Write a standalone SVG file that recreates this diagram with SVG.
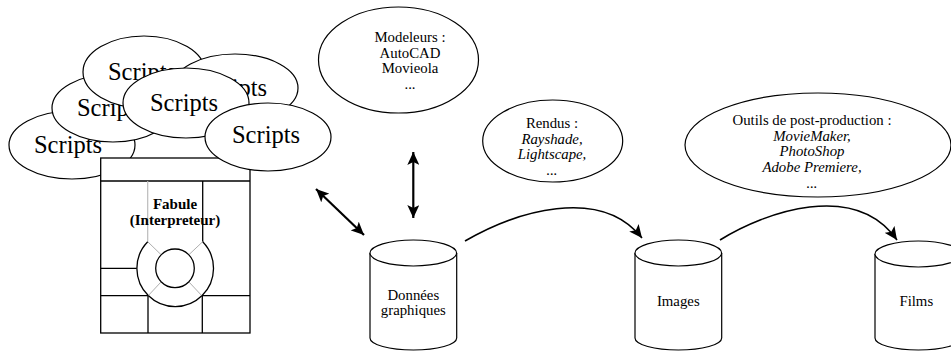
<svg xmlns="http://www.w3.org/2000/svg" width="951" height="352" viewBox="0 0 951 352">
<defs>
<marker id="ah" markerUnits="userSpaceOnUse" markerWidth="14" markerHeight="12" viewBox="0 0 14 12" refX="13" refY="6" orient="auto-start-reverse">
<path d="M0,0 L13,6 L0,12 L3,6 z" fill="#000"/>
</marker>
</defs>
<style>
.sh{fill:#fff;stroke:#000;stroke-width:1.2}
.big{font-family:"Liberation Serif",serif;font-size:24.5px;text-anchor:middle;fill:#000}
.t{font-family:"Liberation Serif",serif;font-size:14.8px;text-anchor:middle;fill:#000}
.it{font-style:italic}
.b{font-weight:bold}
.ln{stroke:#000;stroke-width:1.3;fill:none}
.gr{stroke:#999;stroke-width:0.8;fill:none}
.con{fill:none;stroke:#000;stroke-width:1.6}
.dbl{fill:none;stroke:#000;stroke-width:2.2}
</style>
<rect width="951" height="352" fill="#fff"/>
<g id="scripts1"><ellipse class="sh" cx="72" cy="145" rx="63" ry="34"/><text class="big" x="68" y="153">Scripts</text></g>
<g id="scripts2"><ellipse class="sh" cx="113" cy="108" rx="61" ry="34"/><text class="big" x="111" y="116">Scripts</text></g>
<g id="scripts3"><ellipse class="sh" cx="144" cy="72" rx="61" ry="36"/><text class="big" x="142" y="80">Scripts</text></g>
<g id="scripts4"><ellipse class="sh" cx="235" cy="88" rx="63" ry="34"/><text class="big" x="233" y="96">Scripts</text></g>
<g id="scripts5"><ellipse class="sh" cx="186" cy="103" rx="63" ry="35"/><text class="big" x="184" y="111">Scripts</text></g>
<g id="fabule">
<rect class="sh" x="100.7" y="158" width="149.3" height="175" style="stroke-width:1.3"/>
<line class="ln" x1="100.7" y1="181" x2="250" y2="181"/>
<line class="gr" x1="147.7" y1="181" x2="147.7" y2="241.7" style="stroke:#bbb;stroke-width:1.2"/>
<line class="ln" x1="202.7" y1="181" x2="202.7" y2="241.7"/>
<path class="ln" d="M147.7,241.7 A38.3,38.3 0 1 0 202.7,241.7"/>
<circle class="ln" cx="175" cy="268.3" r="19.3"/>
<line class="gr" x1="147.7" y1="241.7" x2="161.2" y2="254.8"/>
<line class="gr" x1="202.7" y1="241.7" x2="188.8" y2="254.8"/>
<line class="gr" x1="148.2" y1="295.7" x2="161.2" y2="281.8"/>
<line class="gr" x1="201.8" y1="295.7" x2="188.8" y2="281.8"/>
<line class="ln" x1="100.7" y1="268.3" x2="136.7" y2="268.3"/>
<line class="ln" x1="100.7" y1="295.7" x2="148.2" y2="295.7"/>
<line class="ln" x1="201.8" y1="295.7" x2="250" y2="295.7"/>
<line class="ln" x1="148" y1="295.7" x2="148" y2="333"/>
<line class="ln" x1="202.3" y1="295.7" x2="202.3" y2="333"/>
<text class="t b" x="175" y="209" style="font-size:15px">Fabule</text>
<text class="t b" x="175" y="225" style="font-size:15px">(Interpreteur)</text>
</g>
<g id="scripts6"><ellipse class="sh" cx="268" cy="137" rx="63" ry="34"/><text class="big" x="266" y="143">Scripts</text></g>
<g id="modeleurs"><ellipse class="sh" cx="398.5" cy="60" rx="80" ry="53"/>
<text class="t" x="410" y="42">Modeleurs :</text>
<text class="t" x="410" y="57.5">AutoCAD</text>
<text class="t" x="410" y="73">Movieola</text>
<text class="t" x="410" y="89">...</text>
</g>
<g id="rendus"><ellipse class="sh" cx="552.7" cy="141" rx="70" ry="41"/>
<text class="t" x="552" y="128">Rendus :</text>
<text class="t it" x="552" y="143.5">Rayshade,</text>
<text class="t it" x="552" y="158.5">Lightscape,</text>
<text class="t it" x="552" y="175">...</text>
</g>
<g id="outils"><ellipse class="sh" cx="818" cy="145" rx="133" ry="52"/>
<text class="t" x="812" y="125">Outils de post-production :</text>
<text class="t it" x="812" y="140.5">MovieMaker,</text>
<text class="t it" x="812" y="156">PhotoShop</text>
<text class="t it" x="812" y="171.5">Adobe Premiere,</text>
<text class="t it" x="812" y="188">...</text>
</g>
<g id="donnees">
<path class="sh" d="M370,253 L370,338 A43.3,12 0 0 0 456.7,338 L456.7,253"/>
<ellipse class="sh" cx="413.3" cy="253" rx="43.3" ry="13"/>
<text class="t" x="413.3" y="300">Données</text>
<text class="t" x="413.3" y="315">graphiques</text>
</g>
<g id="images">
<path class="sh" d="M635,253 L635,338 A43.3,12 0 0 0 721.7,338 L721.7,253"/>
<ellipse class="sh" cx="678.3" cy="253" rx="43.3" ry="13"/>
<text class="t" x="678.3" y="306">Images</text>
</g>
<g id="films">
<path class="sh" d="M875,254 L875,338 A43.3,12 0 0 0 961.7,338 L961.7,254"/>
<ellipse class="sh" cx="918.3" cy="254" rx="43.3" ry="13"/>
<text class="t" x="916.3" y="306">Films</text>
</g>
<g id="connectors">
<line class="dbl" x1="413.3" y1="152" x2="413.3" y2="218" marker-start="url(#ah)" marker-end="url(#ah)"/>
<line class="dbl" x1="316" y1="189" x2="364" y2="235" marker-start="url(#ah)" marker-end="url(#ah)"/>
<path class="con" d="M465,241 C515,212 600,185 642,238" marker-end="url(#ah)"/>
<path class="con" d="M720,240 C765,212 855,180 897,240" marker-end="url(#ah)"/>
</g>
</svg>
